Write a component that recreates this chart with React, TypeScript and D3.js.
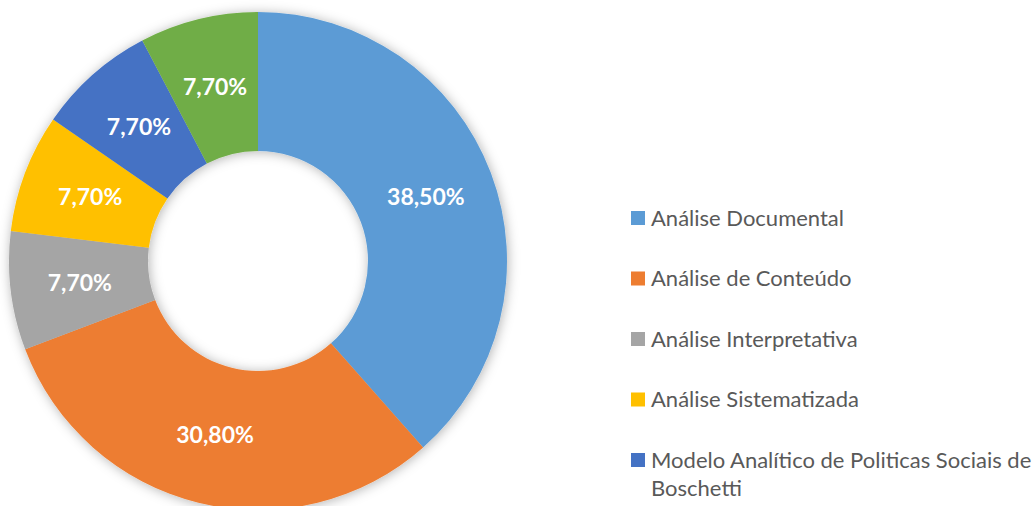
import { useEffect, useRef } from "react";
import * as d3 from "d3";

const categories = [
    "Análise Documental",
    "Análise de Conteúdo",
    "Análise Interpretativa",
    "Análise Sistematizada",
    "Modelo Analítico de Politicas Sociais de Boschetti",
    "Outros",
];
const shares = [38.5, 30.8, 7.7, 7.7, 7.7, 7.7];
const colors = ["#5B9BD5", "#ED7D31", "#A5A5A5", "#FFC000", "#4472C4", "#70AD47"];

const W = 1036;
const H = 506;

export default function App() {
    const svgRef = useRef<SVGSVGElement>(null);

    useEffect(() => {
        if (!svgRef.current) return;
        const svg = d3.select(svgRef.current);
        svg.selectAll("*").remove();

        const cx = 258;
        const cy = 261;
        const outer = 249;
        const inner = 110;

        const defs = svg.append("defs");
        const f = defs.append("filter").attr("id", "shadow")
            .attr("x", "-20%").attr("y", "-20%").attr("width", "140%").attr("height", "140%");
        f.append("feDropShadow")
            .attr("dx", 1).attr("dy", 1)
            .attr("stdDeviation", 6)
            .attr("flood-color", "#000")
            .attr("flood-opacity", 0.3);

        const data = categories.map((name, i) => ({ name, value: shares[i], color: colors[i] }));

        const pie = d3.pie<(typeof data)[0]>().value((d) => d.value).sort(null);
        const arc = d3.arc<d3.PieArcDatum<(typeof data)[0]>>().innerRadius(inner).outerRadius(outer);

        const g = svg.append("g").attr("transform", `translate(${cx},${cy})`);
        const arcs = pie(data);

        g.append("g").attr("filter", "url(#shadow)")
            .selectAll("path")
            .data(arcs)
            .enter()
            .append("path")
            .attr("d", arc)
            .attr("fill", (d) => d.data.color);

        g.selectAll("text.lbl")
            .data(arcs)
            .enter()
            .append("text")
            .attr("class", "lbl")
            .attr("transform", (d) => `translate(${arc.centroid(d)})`)
            .attr("text-anchor", "middle")
            .attr("dy", "0.35em")
            .style("fill", "white")
            .style("font-family", "Lato, sans-serif")
            .style("font-weight", "bold")
            .style("font-size", "23px")
            .text((d) => d.data.value.toFixed(2).replace(".", ",") + "%");

        // legend (entries that fall below the visible area are left out, as in the source)
        const lx = 631;
        const tx = 651;
        const maxW = W - tx - 2;
        const rowGap = 60.5;
        const lineH = 28;
        let y = 218;
        const legend = svg.append("g");
        data.forEach((d) => {
            if (y + 10 > H) return;
            legend.append("rect")
                .attr("x", lx).attr("y", y - 7)
                .attr("width", 14).attr("height", 14)
                .attr("fill", d.color);
            const text = legend.append("text")
                .attr("x", tx).attr("y", y)
                .attr("dy", "0.36em")
                .style("fill", "#595959")
                .style("font-family", "Lato, sans-serif")
                .style("font-size", "22px");
            const words = d.name.split(" ");
            let line: string[] = [];
            let lines = 0;
            let tspan = text.append("tspan").attr("x", tx);
            words.forEach((w) => {
                line.push(w);
                tspan.text(line.join(" "));
                if ((tspan.node() as SVGTSpanElement).getComputedTextLength() > maxW && line.length > 1) {
                    line.pop();
                    tspan.text(line.join(" "));
                    line = [w];
                    lines++;
                    tspan = text.append("tspan").attr("x", tx).attr("dy", lineH).text(w);
                }
            });
            y += rowGap + lines * lineH;
        });
    }, []);

    return (
        <svg
            ref={svgRef}
            width={W}
            height={H}
            viewBox={`0 0 ${W} ${H}`}
            style={{ position: "absolute", left: 0, top: 0, background: "white" }}
        />
    );
}
